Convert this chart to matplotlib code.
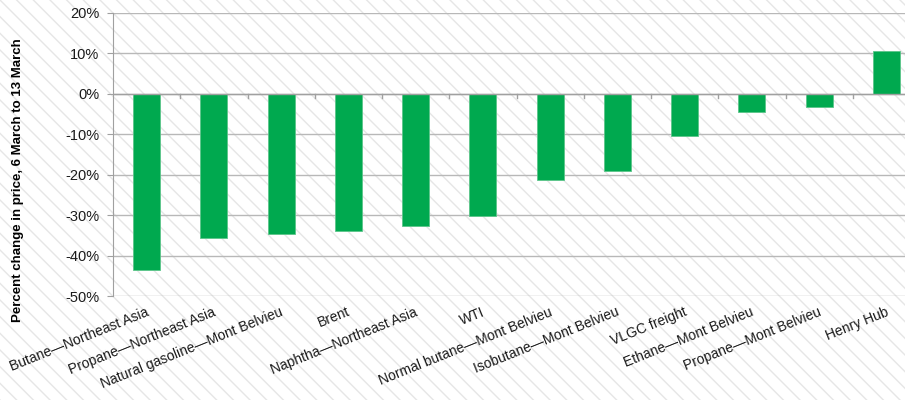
import matplotlib
matplotlib.use("Agg")
import matplotlib.pyplot as plt
from matplotlib.patches import Rectangle
from matplotlib.ticker import FuncFormatter

plt.rcParams['font.family'] = ['Liberation Sans', 'DejaVu Sans']
plt.rcParams['hatch.color'] = '#e6e6e6'
plt.rcParams['hatch.linewidth'] = 1.0

categories = [
    "Butane\u2014Northeast Asia",
    "Propane\u2014Northeast Asia",
    "Natural gasoline\u2014Mont Belvieu",
    "Brent",
    "Naphtha\u2014Northeast Asia",
    "WTI",
    "Normal butane\u2014Mont Belvieu",
    "Isobutane\u2014Mont Belvieu",
    "VLGC freight",
    "Ethane\u2014Mont Belvieu",
    "Propane\u2014Mont Belvieu",
    "Henry Hub",
]
pct_change = [-43.6, -35.6, -34.7, -33.9, -32.7, -30.1, -21.2, -19.1, -10.4, -4.6, -3.2, 10.5]
y_ticks = [20, 10, 0, -10, -20, -30, -40, -50]

fig = plt.figure(figsize=(9.05, 4.0), dpi=100)

# diagonal hatched backdrop across the whole figure
bg = Rectangle((0, 0), 1, 1, transform=fig.transFigure, facecolor='white',
               edgecolor='#e6e6e6', hatch='\\\\', linewidth=0, zorder=-10)
fig.patches.append(bg)

ax = fig.add_axes([113 / 905, 1 - 296 / 400, (920 - 113) / 905, (296 - 13) / 400])
ax.set_facecolor('none')

x = list(range(len(categories)))
ax.bar(x, pct_change, width=0.4, color='#00a94f', edgecolor='#5cc58a',
       linewidth=0.6, zorder=3)

ax.set_xlim(-0.5, len(categories) - 0.5)
ax.set_ylim(-50, 20)
ax.set_yticks(y_ticks)
ax.yaxis.set_major_formatter(FuncFormatter(lambda v, p: f"{v:.0f}%"))
ax.grid(axis='y', color='#b8b8b8', linewidth=1.0, zorder=0)
ax.tick_params(axis='y', length=4, color='#a0a0a0', labelsize=10.5, pad=6,
               labelcolor='#1a1a1a')

for s in ['top', 'right', 'bottom']:
    ax.spines[s].set_visible(False)
ax.spines['left'].set_color('#a0a0a0')
ax.axhline(0, color='#a0a0a0', linewidth=1.0, zorder=4)

# category boundary ticks below the zero line
ax.set_xticks([])
for b in [i + 0.5 for i in x[:-1]]:
    ax.plot([b, b], [0, -1.0], color='#a0a0a0', linewidth=1.0, zorder=4,
            clip_on=False)

# rotated category labels, right end anchored under each bar
for i, name in enumerate(categories):
    ax.annotate(name, xy=(i, -50), xycoords='data', xytext=(1, -11),
                textcoords='offset points', rotation=22, ha='right', va='center',
                rotation_mode='anchor', fontsize=10, color='#1a1a1a',
                annotation_clip=False)

fig.text(18 / 905, 1 - 180 / 400, "Percent change in price, 6 March to 13 March",
         rotation=90, ha='center', va='center', fontsize=9.5, fontweight='bold')

fig.savefig("out.png", dpi=100)
